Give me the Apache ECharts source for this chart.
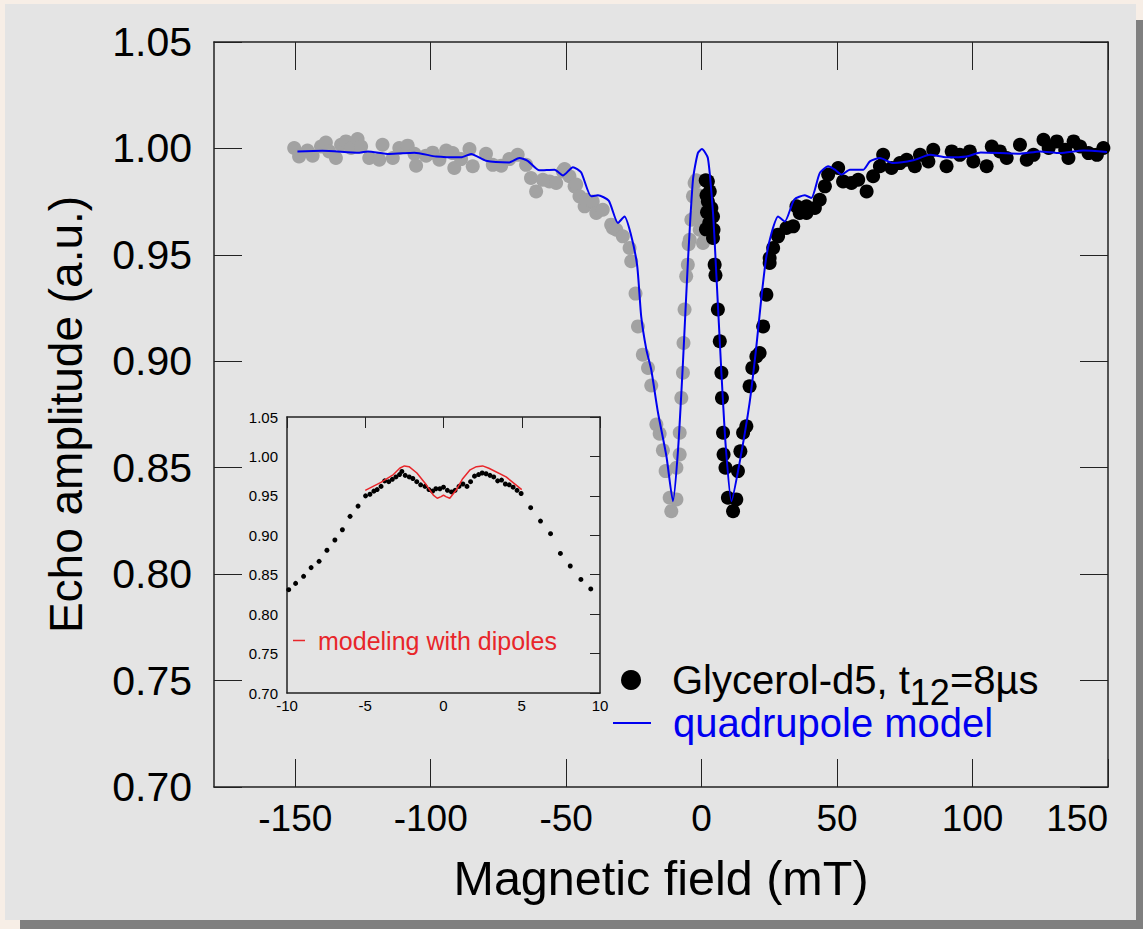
<!DOCTYPE html>
<html>
<head>
<meta charset="utf-8">
<title>Echo amplitude vs magnetic field</title>
<script src="https://cdn.jsdelivr.net/npm/echarts@6/dist/echarts.min.js"></script>
<style>
  html, body { margin: 0; padding: 0; background: #f7eee6; }
  #chart { width: 1143px; height: 929px; }
</style>
</head>
<body>
<div id="chart"></div>
<script>
// ---- data -------------------------------------------------------------
// Main panel: field (mT) vs normalised echo amplitude
const fieldTicks = [-150, -100, -50, 0, 50, 100, 150];

// measured points, negative-field half (grey)
const negFieldPoints = [
  [-150.4,1.0002],[-148.6,0.9962],[-145.5,0.999],[-143.6,0.9966],[-140.5,1.0009],[-138.7,1.0028],
  [-137.5,0.9986],[-135,0.9955],[-133.1,1.0017],[-131.3,1.0033],[-129.4,1.0002],[-127,1.0044],
  [-125.7,1.0009],[-122.7,0.9955],[-119,0.9947],[-117.8,1.0017],[-114,0.9955],[-111.6,1.0002],
  [-108.5,1.0013],[-106,0.9975],[-105.4,0.9919],[-101.7,0.9966],[-99.3,0.998],[-96.8,0.9947],
  [-94.3,0.999],[-91.9,0.9978],[-91.3,0.9908],[-88.8,0.995],[-85.7,0.9997],[-84.5,0.9916],
  [-79.6,0.9975],[-77.1,0.9923],[-74,0.9919],[-71,0.995],[-67.9,0.997],[-64.8,0.9923],
  [-63,0.9861],[-61.1,0.9798],[-58.6,0.9853],[-56.2,0.9845],[-53.7,0.9838],[-51.2,0.9892],
  [-50.6,0.9903],[-48.8,0.9869],[-46.9,0.9822],[-46.3,0.983],[-45.1,0.9775],[-43.2,0.9728],
  [-42.6,0.9759],[-40.2,0.9751],[-38.9,0.9697],[-36.5,0.9712],[-33.4,0.9642],[-32.8,0.9626],
  [-31.5,0.9618],[-29.1,0.9587],[-26.6,0.9532],[-26,0.947],[-24.4,0.9318],[-23.5,0.9164],
  [-21.7,0.9031],[-19.8,0.8969],[-18.6,0.8886],[-16.7,0.8703],[-15.5,0.866],[-14.3,0.8582],
  [-13.3,0.8484],[-11.8,0.8359],[-11.2,0.8296],[-9.3,0.8351],[-9.3,0.85],[-8.1,0.8562],
  [-8.1,0.8664],[-7.5,0.8828],[-6.9,0.8946],[-6.7,0.9086],[-6.3,0.9243],[-5.7,0.9399],
  [-5.1,0.9454],[-4.8,0.955],[-4.4,0.9571],[-3.8,0.9665],[-3.2,0.9775],[-2.6,0.9838],
  [-2.3,0.968],[-2,0.985],[-1.4,0.9728],[-1,0.978],[-0.7,0.9618],[-0.3,0.966],[0.5,0.9556],
  [1.5,0.958]
];

// measured points, positive-field half (black)
const posFieldPoints = [
  [1.5,0.985],[1.8,0.978],[2,0.97],[1.6,0.962],[2.8,0.965],
  [2.3,0.9845],[3,0.9798],[2.3,0.9751],[3.6,0.972],[4.2,0.968],[4.4,0.9618],[4.2,0.9579],
  [4.8,0.9454],[5.1,0.9404],[6,0.9243],[6.7,0.9094],[7.3,0.8946],[7.5,0.8828],[7.9,0.8664],
  [8.1,0.8562],[8.8,0.85],[9.7,0.8359],[11.6,0.8296],[12.8,0.8351],[13.4,0.8484],[14.3,0.8577],
  [15.3,0.8664],[16.5,0.8695],[17.7,0.8883],[18.7,0.8969],[20.2,0.9023],[21.4,0.9039],
  [22.7,0.9164],[23.9,0.9313],[25.1,0.9462],[25.1,0.9485],[26.4,0.9532],[28.2,0.9595],
  [28.2,0.9587],[31.3,0.9626],[33.8,0.9634],[35,0.9728],[36.2,0.9697],[38.7,0.9728],
  [38.7,0.9697],[41.8,0.972],[43.6,0.9759],[45.5,0.9822],[46.7,0.9877],[50.4,0.9908],
  [52.2,0.9845],[55.3,0.9838],[57.8,0.9853],[60.9,0.9798],[63.3,0.9869],[65.8,0.9916],
  [67,0.997],[70.1,0.9908],[73.2,0.9931],[75.7,0.9947],[78.7,0.9916],[80.6,0.997],
  [83.7,0.9939],[85.5,0.9994],[90.4,0.9916],[92.3,0.9986],[95.3,0.997],[99,0.9986],
  [100.3,0.9939],[105.2,0.9916],[107.1,1.0009],[110.1,0.9986],[112.6,0.9955],[117.5,1.0017],
  [120,0.9947],[122.5,0.997],[126.2,1.0041],[128.1,1.0002],[131.1,1.0033],[134.2,0.9994],
  [135.4,0.9955],[137.3,1.0033],[139.7,1.0009],[142.8,0.9978],[145.9,0.997],[148.3,1.0002]
];

// quadrupole model curve
const quadrupoleModel = [
  [-149.2,0.9986],[-140,0.9989],[-126.4,0.998],[-123.3,0.9986],[-115.3,0.9974],[-106,0.998],
  [-98,0.9962],[-88.8,0.9958],[-85.1,0.9974],[-79.6,0.9942],[-71,0.9934],[-67.3,0.9955],
  [-64.2,0.9942],[-59.9,0.9897],[-54.3,0.99],[-51.2,0.9873],[-47.5,0.9912],[-44.5,0.9888],
  [-40.8,0.9775],[-38.3,0.978],[-34.3,0.9755],[-30.9,0.965],[-28.5,0.968],[-26.2,0.96],
  [-23.8,0.945],[-22.3,0.921],[-20.4,0.9055],[-18.6,0.896],[-16.1,0.8758],[-13,0.8554],
  [-10.6,0.8343],[-8.7,0.8586],[-6.9,0.8993],[-5.1,0.946],[-3.2,0.9853],[-1.4,0.9978],
  [0.1,0.9997],[2.3,0.9955],[4.2,0.9697],[5.4,0.9415],[7.3,0.8946],[8.9,0.86],[11,0.8343],
  [14,0.8523],[17.7,0.8805],[20.2,0.907],[22.1,0.9305],[23.9,0.9493],[25.8,0.9603],
  [28.2,0.968],[30.7,0.9657],[34.2,0.976],[38.1,0.978],[40.5,0.9767],[43.6,0.9884],
  [46.7,0.9916],[49.2,0.99],[51.7,0.9877],[54.7,0.99],[59.7,0.99],[62.1,0.9939],
  [65.8,0.9955],[70.7,0.9931],[78.1,0.9944],[84.3,0.997],[90.4,0.9958],[97.8,0.9962],
  [103,0.9981],[117.5,0.9975],[124.9,0.9986],[132.3,0.9978],[140.9,0.999],[149.6,0.9983]
];

// Inset: low-field region (-10 .. 10 mT)
const insetPoints = [
  [-9.89,0.831],[-9.45,0.839],[-8.94,0.848],[-8.46,0.859],[-7.95,0.867],[-7.45,0.881],
  [-6.94,0.894],[-6.46,0.907],[-5.97,0.924],[-5.46,0.937],
  [-4.98,0.950],[-4.70,0.952],[-4.45,0.956],[-4.24,0.958],[-3.99,0.962],[-3.76,0.969],
  [-3.50,0.968],[-3.27,0.971],[-3.04,0.974],[-2.81,0.977],[-2.66,0.981],[-2.45,0.976],
  [-2.19,0.974],[-1.96,0.972],[-1.71,0.968],[-1.46,0.964],[-1.18,0.962],[-0.93,0.958],
  [-0.70,0.956],[-0.49,0.959],[-0.23,0.959],[0,0.961],[0.25,0.957],[0.51,0.955],
  [0.74,0.957],[0.99,0.962],[1.24,0.965],[1.50,0.962],[1.73,0.968],[1.98,0.975],
  [2.24,0.977],[2.47,0.979],[2.72,0.978],[2.97,0.976],[3.21,0.974],[3.46,0.969],
  [3.71,0.970],[3.95,0.965],[4.20,0.964],[4.45,0.961],[4.70,0.957],[4.96,0.953],
  [5.57,0.935],[6.2,0.918],[6.84,0.902],[7.47,0.877],[8.1,0.861],[8.78,0.844],[9.41,0.832]
];

// dipolar model curve for the inset
const dipoleModel = [
  [-5,0.957],[-4,0.967],[-3.2,0.977],[-2.8,0.985],[-2.5,0.988],[-2.2,0.987],[-1.7,0.979],
  [-1.1,0.964],[-0.65,0.951],[-0.4,0.947],[-0.15,0.949],[0,0.951],[0.15,0.949],[0.4,0.947],
  [0.8,0.957],[1.2,0.971],[1.7,0.983],[2.1,0.987],[2.5,0.988],[2.9,0.985],[4,0.974],[5,0.958]
];

// ---- chart ------------------------------------------------------------
const FONT = '"Liberation Sans", Arial, Helvetica, sans-serif';
const FRAME = '#222';
const BLUE = '#0000f0';
const RED = '#e8262a';
const fmt2 = v => Number(v).toFixed(2);

const frameLine = { show: true, onZero: false, lineStyle: { color: FRAME, width: 1.5 } };

const option = {
  backgroundColor: '#f7eee6',
  animation: false,
  textStyle: { fontFamily: FONT },
  graphic: {
    elements: [
      { type: 'rect', z: -10, silent: true,
        shape: { x: 20, y: 20, width: 1123, height: 909 }, style: { fill: '#7f7f7f' } },
      { type: 'rect', z: -9, silent: true,
        shape: { x: 5, y: 4, width: 1131, height: 916 }, style: { fill: '#e4e4e4' } }
    ]
  },
  grid: [
    { left: 214, top: 42, width: 894, height: 745, show: false },
    { left: 287, top: 417, width: 313, height: 276, show: true,
      backgroundColor: '#e4e4e4', borderWidth: 0 }
  ],
  xAxis: [
    { gridIndex: 0, type: 'value', position: 'bottom', min: -180, max: 150,
      axisLine: frameLine,
      axisTick: { show: true, inside: true, length: 28, customValues: fieldTicks,
                  lineStyle: { color: FRAME, width: 1 } },
      axisLabel: { show: true, customValues: fieldTicks, fontSize: 37, color: '#000',
                   margin: 13, fontFamily: FONT, alignMaxLabel: 'right' },
      splitLine: { show: false },
      name: 'Magnetic field (mT)', nameLocation: 'middle', nameGap: 66,
      nameTextStyle: { fontSize: 48.5, color: '#000', fontFamily: FONT } },
    { gridIndex: 0, type: 'value', position: 'top', min: -180, max: 150,
      axisLine: frameLine,
      axisTick: { show: true, inside: true, length: 28, customValues: fieldTicks,
                  lineStyle: { color: FRAME, width: 1 } },
      axisLabel: { show: false }, splitLine: { show: false } },
    { gridIndex: 1, type: 'value', position: 'bottom', min: -10, max: 10, interval: 5,
      axisLine: frameLine,
      axisTick: { show: false },
      axisLabel: { show: true, fontSize: 15, color: '#000', margin: 5, fontFamily: FONT,
                   showMinLabel: true, showMaxLabel: true },
      splitLine: { show: false } },
    { gridIndex: 1, type: 'value', position: 'top', min: -10, max: 10, interval: 5,
      axisLine: frameLine,
      axisTick: { show: true, inside: true, length: 11, lineStyle: { color: FRAME, width: 1 } },
      axisLabel: { show: false }, splitLine: { show: false } }
  ],
  yAxis: [
    { gridIndex: 0, type: 'value', position: 'left', min: 0.7, max: 1.05, interval: 0.05,
      axisLine: frameLine,
      axisTick: { show: true, inside: true, length: 28, lineStyle: { color: FRAME, width: 1 } },
      axisLabel: { show: true, fontSize: 41, color: '#000', margin: 22, formatter: fmt2,
                   padding: [0, 0, 6, 0], showMinLabel: true, showMaxLabel: true, fontFamily: FONT },
      splitLine: { show: false },
      name: 'Echo amplitude (a.u.)', nameLocation: 'middle', nameGap: 125, nameRotate: 90,
      nameTextStyle: { fontSize: 46, color: '#000', fontFamily: FONT } },
    { gridIndex: 0, type: 'value', position: 'right', min: 0.7, max: 1.05, interval: 0.05,
      axisLine: frameLine,
      axisTick: { show: true, inside: true, length: 28, lineStyle: { color: FRAME, width: 1 } },
      axisLabel: { show: false }, splitLine: { show: false } },
    { gridIndex: 1, type: 'value', position: 'left', min: 0.7, max: 1.05, interval: 0.05,
      axisLine: frameLine,
      axisTick: { show: false },
      axisLabel: { show: true, fontSize: 15, color: '#000', margin: 9, formatter: fmt2,
                   showMinLabel: true, showMaxLabel: true, fontFamily: FONT },
      splitLine: { show: false } },
    { gridIndex: 1, type: 'value', position: 'right', min: 0.7, max: 1.05, interval: 0.05,
      axisLine: frameLine,
      axisTick: { show: true, inside: true, length: 10, lineStyle: { color: FRAME, width: 1 } },
      axisLabel: { show: false }, splitLine: { show: false } }
  ],
  legend: [
    { data: [{ name: 'Glycerol-d5, t12=8µs', icon: 'circle' }],
      left: 621, top: 650, padding: 0, itemWidth: 38, itemHeight: 20, selectedMode: false,
      formatter: () => '{n|Glycerol-d5, t}{s|12}{n|=8µs}',
      textStyle: { padding: [0, 0, 0, 17],
        rich: { n: { fontSize: 40, lineHeight: 40, color: '#000', fontFamily: FONT },
                s: { fontSize: 36, lineHeight: 40, color: '#000', fontFamily: FONT,
                     padding: [24, 0, 0, 0] } } } },
    { data: [{ name: 'quadrupole model', icon: 'rect' }],
      left: 613, top: 703, padding: 0, itemWidth: 38, itemHeight: 2, selectedMode: false,
      textStyle: { fontSize: 40, lineHeight: 40, color: BLUE, fontFamily: FONT,
                   padding: [0, 0, 0, 17] } },
    { data: [{ name: 'modeling with dipoles', icon: 'rect' }],
      left: 293, top: 628, padding: 0, itemWidth: 12, itemHeight: 1.5, selectedMode: false,
      textStyle: { fontSize: 25, color: RED, fontFamily: FONT, padding: [0, 0, 0, 8] } }
  ],
  series: [
    { name: 'negative field', type: 'scatter', xAxisIndex: 0, yAxisIndex: 0,
      data: negFieldPoints, symbol: 'circle', symbolSize: 14,
      itemStyle: { color: '#a2a2a2', opacity: 1 }, z: 2 },
    { name: 'Glycerol-d5, t12=8µs', type: 'scatter', xAxisIndex: 0, yAxisIndex: 0,
      data: posFieldPoints, symbol: 'circle', symbolSize: 14,
      itemStyle: { color: '#000', opacity: 1 }, z: 3 },
    { name: 'quadrupole model', type: 'line', xAxisIndex: 0, yAxisIndex: 0,
      data: quadrupoleModel, symbol: 'none', smooth: 0.2,
      lineStyle: { color: BLUE, width: 2 }, itemStyle: { color: BLUE }, z: 4 },
    { name: 'inset points', type: 'scatter', xAxisIndex: 2, yAxisIndex: 2,
      data: insetPoints, symbol: 'circle', symbolSize: 5,
      itemStyle: { color: '#000', opacity: 1 }, z: 3 },
    { name: 'modeling with dipoles', type: 'line', xAxisIndex: 2, yAxisIndex: 2,
      data: dipoleModel, symbol: 'none',
      lineStyle: { color: RED, width: 1.5 }, itemStyle: { color: RED }, z: 4 }
  ]
};

const chart = echarts.init(document.getElementById('chart'), null, { renderer: 'svg' });
chart.setOption(option);
</script>
</body>
</html>
